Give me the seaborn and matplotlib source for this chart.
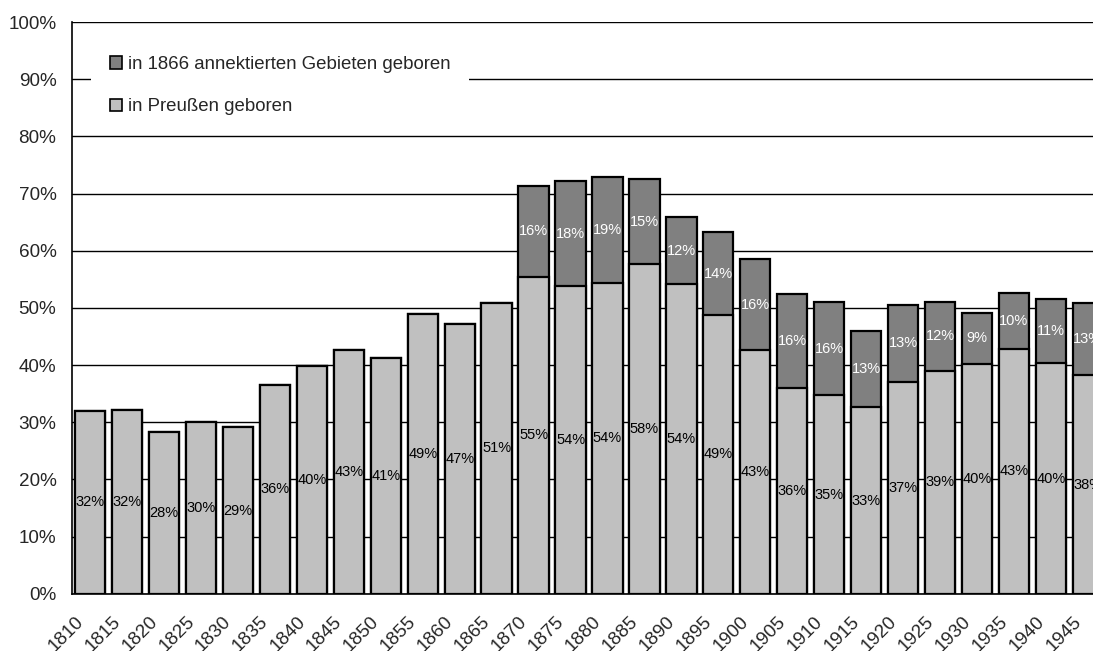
import numpy as np
import pandas as pd
import matplotlib
matplotlib.use("Agg")
import matplotlib.pyplot as plt
import matplotlib.transforms as mtransforms
from matplotlib.patches import Patch
import seaborn as sns

# Share of members by place of birth, per five-year period
years = [str(y) for y in range(1810, 1950, 5)]
born_prussia = [32.0, 32.2, 28.2, 30.0, 29.1, 36.5, 39.9, 42.6, 41.3, 49.0,
                47.2, 50.9, 55.4, 53.8, 54.3, 57.6, 54.1, 48.8, 42.6, 36.0,
                34.7, 32.6, 37.1, 39.0, 40.2, 42.8, 40.3, 38.2]
born_annexed = [0, 0, 0, 0, 0, 0, 0, 0, 0, 0,
                0, 0, 16.0, 18.4, 18.6, 15.0, 11.8, 14.4, 15.9, 16.4,
                16.3, 13.4, 13.4, 12.1, 8.9, 9.8, 11.3, 12.7]
legend_labels = ["in 1866 annektierten Gebieten geboren", "in Preußen geboren"]

df = pd.DataFrame({"year": years, "prussia": born_prussia, "annexed": born_annexed})
df["total"] = df["prussia"] + df["annexed"]

sns.set_style("white")
plt.rcParams["font.family"] = ["Liberation Sans", "DejaVu Sans"]

DARK = "#808080"
LIGHT = "#c0c0c0"

fig = plt.figure(figsize=(10.93, 6.51), dpi=100)
ax = fig.add_axes([0.0656, 0.0880, 0.9466, 0.8782])

bar_kw = dict(width=0.82, edgecolor="black", linewidth=1.6, saturation=1, ax=ax)
sns.barplot(data=df, x="year", y="total", color=DARK, **bar_kw)
sns.barplot(data=df, x="year", y="prussia", color=LIGHT, **bar_kw)

# value labels centred in each segment
for i, row in df.iterrows():
    ax.text(i, row["prussia"] / 2, f"{row['prussia']:.0f}%", ha="center", va="center",
            fontsize=10.5, color="black")
    if row["annexed"] > 0:
        ax.text(i, row["prussia"] + row["annexed"] / 2, f"{row['annexed']:.0f}%",
                ha="center", va="center", fontsize=10.5, color="white")

ax.set_xlim(-0.5, len(years) - 0.5)
ax.set_ylim(0, 100)
ax.set_xlabel("")
ax.set_ylabel("")

ax.set_yticks(np.arange(0, 101, 10))
ax.set_yticklabels([f"{v}%" for v in range(0, 101, 10)])
ax.yaxis.grid(True, color="black", linewidth=1)
ax.set_axisbelow(True)

ax.set_xticks(range(len(years)))
ax.set_xticklabels(years, rotation=45, ha="right", va="center", rotation_mode="anchor")
ax.set_xticks(np.arange(-0.5, len(years), 1), minor=True)
ax.tick_params(axis="x", which="major", length=0, pad=18.5, labelsize=13.6)
ax.tick_params(axis="x", which="minor", length=4.5, width=1, color="black", direction="out")
ax.tick_params(axis="y", length=4.3, width=1, color="black", direction="out", pad=6.7,
               labelsize=13.6)
shift = mtransforms.ScaledTranslation(-9.3 / 100, 0, fig.dpi_scale_trans)
for lab in ax.get_xticklabels():
    lab.set_transform(lab.get_transform() + shift)

for side in ["top", "right"]:
    ax.spines[side].set_visible(False)
for side in ["left", "bottom"]:
    ax.spines[side].set_color("black")
    ax.spines[side].set_linewidth(1.2)

handles = [Patch(facecolor=DARK, edgecolor="black", linewidth=1.2),
           Patch(facecolor=LIGHT, edgecolor="black", linewidth=1.2)]
leg = ax.legend(handles, legend_labels, loc="upper left", bbox_to_anchor=(0.019, 0.9729),
                borderaxespad=0, fontsize=13.4, handlelength=0.63, handleheight=0.63,
                handletextpad=0.32, labelspacing=1.35, borderpad=1.0,
                frameon=True, fancybox=False, framealpha=1)
leg.get_frame().set_facecolor("white")
leg.get_frame().set_edgecolor("none")

fig.savefig("out.png", dpi=100)
